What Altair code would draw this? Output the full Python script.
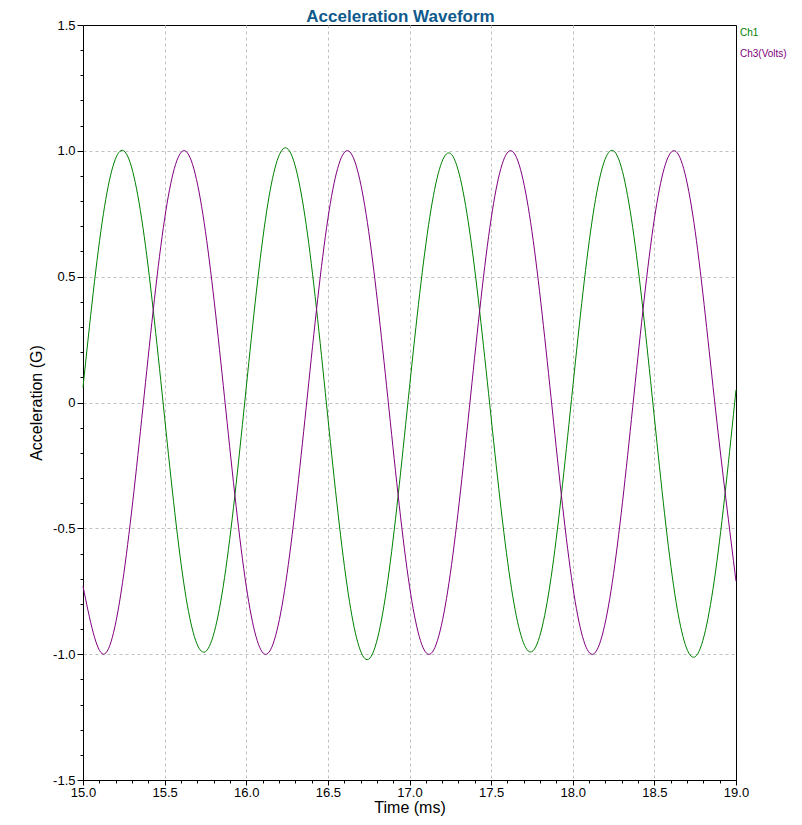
import altair as alt
import pandas as pd

# time samples (ms)
times = [15.0, 15.125, 15.25, 15.375, 15.5, 15.625, 15.75, 15.875,
         16.0, 16.125, 16.25, 16.375, 16.5, 16.625, 16.75, 16.875,
         17.0, 17.125, 17.25, 17.375, 17.5, 17.625, 17.75, 17.875,
         18.0, 18.125, 18.25, 18.375, 18.5, 18.625, 18.75, 18.875, 19.0]

ch1 = [0.06, 0.75, 1.00, 0.66, -0.06, -0.75, -0.99, -0.66,
       0.06, 0.76, 1.01, 0.67, -0.06, -0.76, -1.02, -0.67,
       0.06, 0.74, 0.99, 0.65, -0.06, -0.74, -0.99, -0.66,
       0.06, 0.75, 1.00, 0.66, -0.06, -0.76, -1.01, -0.67, 0.05]

ch3 = [-0.73, -1.00, -0.68, 0.03, 0.73, 1.00, 0.68, -0.03,
       -0.73, -1.00, -0.68, 0.03, 0.73, 1.00, 0.68, -0.03,
       -0.73, -1.00, -0.68, 0.03, 0.73, 1.00, 0.68, -0.03,
       -0.73, -1.00, -0.68, 0.03, 0.73, 1.00, 0.68, -0.03, -0.71]

series_names = ["Ch1", "Ch3(Volts)"]
series_colors = ["#008000", "#800080"]

x_major = [15.0, 15.5, 16.0, 16.5, 17.0, 17.5, 18.0, 18.5, 19.0]
y_major = [-1.5, -1.0, -0.5, 0.0, 0.5, 1.0, 1.5]
x_grid = [15.5, 16.0, 16.5, 17.0, 17.5, 18.0, 18.5]
y_grid = [-1.0, -0.5, 0.0, 0.5, 1.0]
x_minor = [round(15.0 + 0.1 * i, 1) for i in range(41)]
y_minor = [round(-1.5 + 0.1 * i, 1) for i in range(31)]

rows = []
for t, v in zip(times, ch1):
    rows.append({"t": t, "value": v, "series": series_names[0]})
for t, v in zip(times, ch3):
    rows.append({"t": t, "value": v, "series": series_names[1]})
df = pd.DataFrame(rows)

FONT = "Liberation Sans"
x_scale = alt.Scale(domain=[15, 19], nice=False, zero=False)
y_scale = alt.Scale(domain=[-1.5, 1.5], nice=False, zero=False)

base = alt.Chart(df)

grid = base.mark_line(strokeOpacity=0).encode(
    x=alt.X("t:Q", scale=x_scale,
            axis=alt.Axis(values=x_grid, labels=False, ticks=False, domain=False,
                          orient="bottom", grid=True, gridDash=[3, 3],
                          gridColor="#c0c0c0", title=None)),
    y=alt.Y("value:Q", scale=y_scale,
            axis=alt.Axis(values=y_grid, labels=False, ticks=False, domain=False,
                          orient="left", grid=True, gridDash=[3, 3],
                          gridColor="#c0c0c0", title=None)),
    detail="series:N",
)

major = base.mark_line(strokeWidth=1, interpolate="natural").encode(
    x=alt.X("t:Q", scale=x_scale,
            axis=alt.Axis(values=x_major, format=".1f", title="Time (ms)",
                          orient="bottom", grid=False, tickSize=5, tickColor="black",
                          domainColor="black", labelColor="black",
                          labelFontSize=13, titleFontSize=16,
                          titleFontWeight="normal", titleColor="black",
                          labelPadding=1, titlePadding=0, labelFont=FONT,
                          titleFont=FONT, labelFlush=False)),
    y=alt.Y("value:Q", scale=y_scale,
            axis=alt.Axis(values=y_major, title="Acceleration (G)",
                          labelExpr="datum.value == 0 ? '0' : (datum.value < 0 ? '-' : '') + format(abs(datum.value), '.1f')",
                          orient="left", grid=False, tickSize=6, tickColor="black",
                          domainColor="black", labelColor="black",
                          labelFontSize=13, titleFontSize=16,
                          titleFontWeight="normal", titleColor="black",
                          labelPadding=2, titlePadding=8, labelFont=FONT,
                          titleFont=FONT, labelFlush=False)),
    color=alt.Color("series:N",
                    scale=alt.Scale(domain=series_names, range=series_colors),
                    legend=alt.Legend(title=None, orient="none", legendX=647,
                                      legendY=3, symbolSize=0, symbolOpacity=0,
                                      symbolStrokeWidth=0, labelOffset=0,
                                      labelFontSize=10, labelFont=FONT,
                                      rowPadding=11,
                                      labelColor=alt.ExprRef(expr="datum.label == 'Ch1' ? '#008000' : '#800080'"))),
)

minor = base.mark_line(strokeOpacity=0).encode(
    x=alt.X("t:Q", scale=x_scale,
            axis=alt.Axis(values=x_minor, labels=False, grid=False, domain=False,
                          orient="bottom", tickSize=3, tickColor="black", title=None)),
    y=alt.Y("value:Q", scale=y_scale,
            axis=alt.Axis(values=y_minor, labels=False, grid=False, domain=False,
                          orient="left", tickSize=3, tickColor="black", title=None)),
    detail="series:N",
)

chart = alt.layer(grid, major, minor).resolve_axis(
    x="independent", y="independent"
).properties(
    width=653, height=755,
    title=alt.TitleParams("Acceleration Waveform", fontSize=17, fontWeight="bold",
                          color="#0f5a8c", font=FONT, anchor="middle", dx=-9,
                          dy=13, offset=6),
    autosize=alt.AutoSizeParams(type="none"),
    padding={"left": 75, "top": 17, "right": 56, "bottom": 37},
).configure_view(stroke="black", strokeWidth=1)

chart.save("out.html", embed_options={"renderer": "svg", "actions": False})
